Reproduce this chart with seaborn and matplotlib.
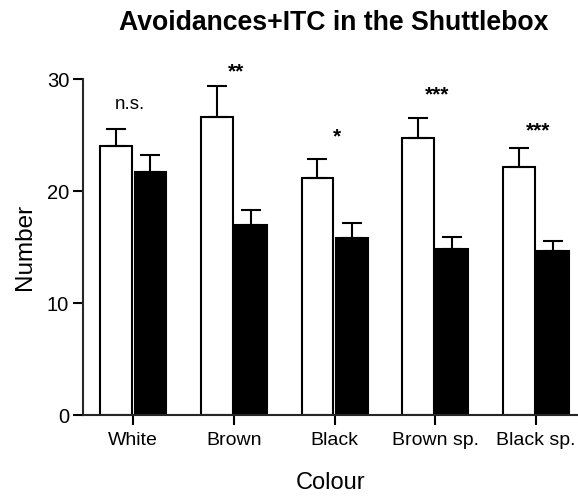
import matplotlib
matplotlib.use("Agg")
import matplotlib.pyplot as plt
import seaborn as sns
import pandas as pd
import numpy as np

categories = ["White", "Brown", "Black", "Brown sp.", "Black sp."]
groups = ["Group A", "Group B"]
means_a = [24.0, 26.6, 21.2, 24.7, 22.1]
sem_a = [1.5, 2.8, 1.7, 1.8, 1.7]
means_b = [21.7, 17.0, 15.8, 14.85, 14.65]
sem_b = [1.5, 1.3, 1.3, 1.0, 0.85]
sig_labels = ["n.s.", "**", "*", "***", "***"]
sig_y = [27.7, 30.8, 25.0, 28.8, 25.6]

sns.set_theme(style="ticks")
plt.rcParams["font.family"] = ["Liberation Sans", "DejaVu Sans"]
plt.rcParams["text.color"] = "black"
plt.rcParams["axes.labelcolor"] = "black"
plt.rcParams["xtick.color"] = "black"
plt.rcParams["ytick.color"] = "black"

df = pd.DataFrame({
    "Colour": categories * 2,
    "Number": means_a + means_b,
    "Group": [groups[0]] * 5 + [groups[1]] * 5,
})

fig = plt.figure(figsize=(5.78, 4.98), dpi=100)
ax = fig.add_axes([83 / 578, 1 - 415 / 498, 1 - 83 / 578, (415 - 79) / 498])

sns.barplot(data=df, x="Colour", y="Number", hue="Group", order=categories,
            hue_order=groups, palette=["white", "black"], edgecolor="black",
            linewidth=1.5, width=0.68, gap=0.07, errorbar=None, legend=False, ax=ax)

for cont, sems in zip(ax.containers, [sem_a, sem_b]):
    xs = [p.get_x() + p.get_width() / 2 for p in cont.patches]
    hs = [p.get_height() for p in cont.patches]
    ax.errorbar(xs, hs, yerr=[np.zeros(len(sems)), sems], fmt="none",
                ecolor="black", elinewidth=1.5, capsize=7, capthick=1.5, zorder=1)

for i, (lab, y) in enumerate(zip(sig_labels, sig_y)):
    if lab == "n.s.":
        ax.text(i - 0.03, y, lab, ha="center", va="center", fontsize=13.5)
    else:
        ax.text(i + 0.02, y - 0.2, lab, ha="center", va="center", fontsize=15,
                fontweight="bold")

ax.set_ylim(0, 30)
ax.set_xlim(-0.5, 4.42)
ax.set_yticks([0, 10, 20, 30])
ax.tick_params(axis="x", labelsize=14, width=1.5, length=7, color="black", pad=5)
ax.tick_params(axis="y", labelsize=14.5, width=1.5, length=7, color="black", pad=3)
ax.spines["left"].set_linewidth(1.5)
ax.spines["bottom"].set_linewidth(1.5)
sns.despine(ax=ax)
ax.set_xlabel("Colour", fontsize=17, labelpad=17)
ax.set_ylabel("Number", fontsize=17.5, labelpad=8)
fig.suptitle("Avoidances+ITC in the Shuttlebox", fontsize=19.2, fontweight="bold",
             x=334 / 578, y=1 - 10 / 498, va="top")

fig.savefig("out.png", dpi=100)
